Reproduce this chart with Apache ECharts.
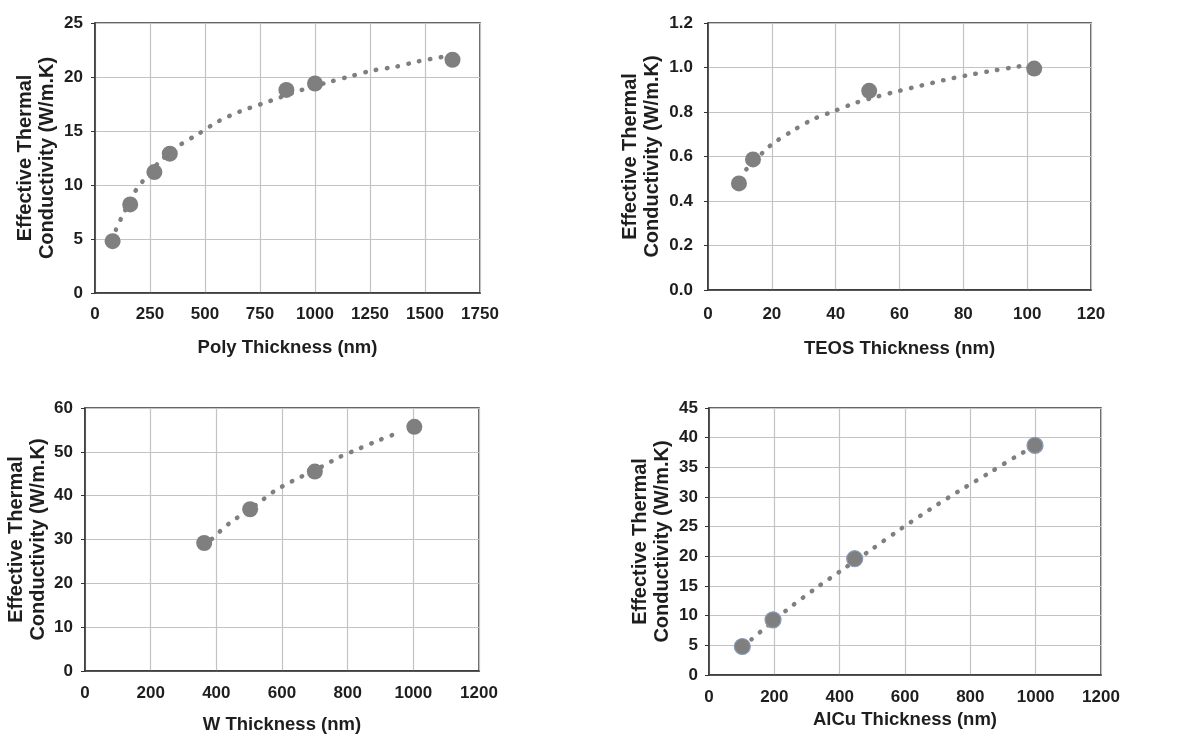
<!DOCTYPE html>
<html>
<head>
<meta charset="utf-8">
<script src="https://cdn.jsdelivr.net/npm/echarts@6/dist/echarts.min.js"></script>
<style>
  html, body { margin: 0; padding: 0; background: #fff; }
  #chart { width: 1197px; height: 738px; }
</style>
</head>
<body>
<div id="chart"></div>
<script>
// measured points (thickness nm, conductivity W/m.K)
var polyX = [80, 160, 270, 340, 870, 1000, 1625];
var polyY = [4.8, 8.2, 11.2, 12.9, 18.8, 19.4, 21.6];
var polyTrendX = [95, 121, 179, 215, 291, 379, 471, 561, 658, 756, 954, 1057, 1159, 1262, 1367, 1470, 1576];
var polyTrendY = [5.85, 7.0, 9.3, 10.3, 12.1, 13.6, 14.75, 15.9, 16.8, 17.5, 18.9, 19.5, 20.05, 20.6, 20.95, 21.45, 21.85];

var teosX = [9.7, 14.1, 50.5, 102.2];
var teosY = [0.479, 0.587, 0.895, 0.995];
var teosTrendX = [12.0, 17.4, 20.3, 26.7, 33.0, 39.5, 46.2, 52.7, 59.9, 66.9, 73.8, 80.9, 88.1, 95.4, 98.8];
var teosTrendY = [0.542, 0.621, 0.658, 0.717, 0.768, 0.804, 0.841, 0.868, 0.895, 0.919, 0.943, 0.964, 0.983, 1.0, 1.008];

var wX = [363, 503, 700, 1003];
var wY = [29.2, 36.9, 45.5, 55.7];
var wTrendX = [386, 438, 521, 576, 631, 718, 775, 834, 897, 960];
var wTrendY = [30.1, 33.6, 37.9, 41.0, 43.3, 46.5, 48.8, 50.7, 52.7, 54.5];

var alcuX = [102, 196, 446, 998];
var alcuY = [4.8, 9.3, 19.6, 38.7];
var alcuTrendX = [130, 239, 324, 415, 501, 589, 679, 768, 856, 945, 975];
var alcuTrendY = [6.0, 11.0, 14.5, 18.0, 21.3, 24.7, 28.0, 31.1, 34.0, 37.0, 37.9];

var xNames = ['Poly Thickness (nm)', 'TEOS Thickness (nm)', 'W Thickness (nm)', 'AlCu Thickness (nm)'];
var yName = 'Effective Thermal\nConductivity (W/m.K)';

function zip(xs, ys) {
  return xs.map(function (x, i) { return [x, ys[i]]; });
}

var textColor = '#1e1e1e';
var grey = '#7f7f7f';
var font = 'Liberation Sans, Arial';

var grids = [
  { left: 95, top: 23, width: 385, height: 270 },
  { left: 708, top: 23, width: 383, height: 267 },
  { left: 85, top: 408, width: 394, height: 263 },
  { left: 709, top: 408, width: 392, height: 267 }
];
var xAxes = [
  { max: 1750, interval: 250, nameGap: 45, margin: 13 },
  { max: 120, interval: 20, nameGap: 49, margin: 16 },
  { max: 1200, interval: 200, nameGap: 44, margin: 14 },
  { max: 1200, interval: 200, nameGap: 35, margin: 14 }
];
var yAxes = [
  { max: 25, interval: 5, nameGap: 37, digits: 0, margin: 12 },
  { max: 1.2, interval: 0.2, nameGap: 45, digits: 1, margin: 15 },
  { max: 60, interval: 10, nameGap: 36, digits: 0, margin: 12 },
  { max: 45, interval: 5, nameGap: 36, digits: 0, margin: 11 }
];

var option = {
  backgroundColor: '#fff',
  animation: false,
  grid: grids.map(function (g) {
    return Object.assign({ show: true, borderColor: '#333', borderWidth: 1.5, backgroundColor: 'transparent' }, g);
  }),
  xAxis: xAxes.map(function (a, i) {
    return {
      type: 'value', gridIndex: i, min: 0, max: a.max, interval: a.interval,
      name: xNames[i], nameLocation: 'middle', nameGap: a.nameGap,
      nameTextStyle: { fontFamily: font, fontWeight: 'bold', fontSize: 18.5, color: textColor },
      axisLine: { show: true, onZero: false, lineStyle: { color: '#333', width: 1.5 } },
      axisTick: { show: false },
      axisLabel: {
        margin: a.margin, fontFamily: font, fontWeight: 'bold', fontSize: 17, color: textColor,
        formatter: function (v) { return String(v); }
      },
      splitLine: { show: true, lineStyle: { color: '#c3c3c3', width: 1.2 } }
    };
  }),
  yAxis: yAxes.map(function (a, i) {
    return {
      type: 'value', gridIndex: i, min: 0, max: a.max, interval: a.interval,
      name: yName, nameLocation: 'middle', nameGap: a.nameGap,
      nameTextStyle: { fontFamily: font, fontWeight: 'bold', fontSize: 20, color: textColor, lineHeight: 22 },
      axisLine: { show: true, onZero: false, lineStyle: { color: '#333', width: 1.5 } },
      axisTick: { show: true, length: 4, lineStyle: { color: '#333' } },
      axisLabel: {
        margin: a.margin, fontFamily: font, fontWeight: 'bold', fontSize: 17, color: textColor,
        formatter: function (v) { return v.toFixed(a.digits); }
      },
      splitLine: { show: true, lineStyle: { color: '#c3c3c3', width: 1.2 } }
    };
  }),
  series: []
};

var sets = [
  [polyTrendX, polyTrendY, polyX, polyY],
  [teosTrendX, teosTrendY, teosX, teosY],
  [wTrendX, wTrendY, wX, wY],
  [alcuTrendX, alcuTrendY, alcuX, alcuY]
];
sets.forEach(function (s, i) {
  option.series.push({
    type: 'line', xAxisIndex: i, yAxisIndex: i,
    data: zip(s[0], s[1]), smooth: 0.3, showSymbol: false,
    lineStyle: { color: grey, width: 4.5, type: [0.5, 10.5], cap: 'round' },
    z: 2
  });
  option.series.push({
    type: 'scatter', xAxisIndex: i, yAxisIndex: i,
    data: zip(s[2], s[3]), symbol: 'circle', symbolSize: 16,
    itemStyle: i === 3
      ? { color: grey, borderColor: '#8a9ab5', borderWidth: 1.2, opacity: 1 }
      : { color: grey, opacity: 1 },
    z: 3
  });
});

var chart = echarts.init(document.getElementById('chart'));
chart.setOption(option);
</script>
</body>
</html>
